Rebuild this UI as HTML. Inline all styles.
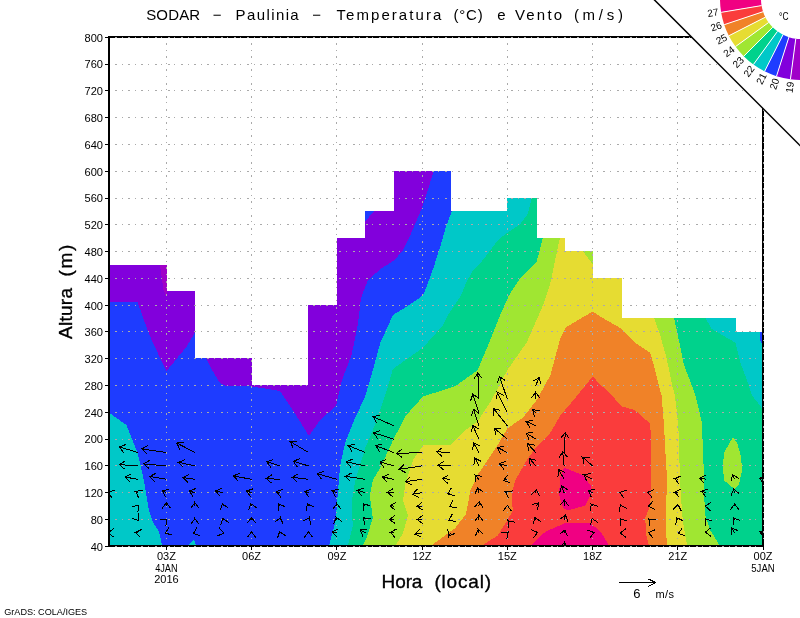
<!DOCTYPE html>
<html lang="pt"><head><meta charset="utf-8"><title>SODAR - Paulinia - Temperatura e Vento</title>
<style>html,body{margin:0;padding:0;background:#fff}body{width:800px;height:618px;overflow:hidden}svg{display:block}text{font-family:"Liberation Sans",sans-serif;fill:#000}</style></head><body>
<svg width="800" height="618" viewBox="0 0 800 618">
<rect width="800" height="618" fill="#fff"/>
<defs><clipPath id="d"><polygon points="108.0,265.0 167.0,265.0 167.0,291.0 195.0,291.0 195.0,358.0 252.0,358.0 252.0,385.0 308.0,385.0 308.0,305.0 337.0,305.0 337.0,238.0 365.0,238.0 365.0,211.0 394.0,211.0 394.0,171.0 451.0,171.0 451.0,211.0 507.0,211.0 507.0,198.0 537.0,198.0 537.0,238.0 565.0,238.0 565.0,251.0 593.0,251.0 593.0,278.0 622.0,278.0 622.0,318.0 736.0,318.0 736.0,332.0 764.0,332.0 764.0,546.0 108.0,546.0"/></clipPath><clipPath id="f"><rect x="108" y="36" width="656" height="511"/></clipPath></defs>
<g clip-path="url(#d)" shape-rendering="crispEdges">
<rect x="100" y="160" width="680" height="400" fill="#8200dc"/>
<polygon fill="#a000c8" points="160.0,265.0 167.0,265.0 167.0,292.0 166.0,296.0 163.5,290.0"/>
<polygon fill="#1e3cff" points="108.0,302.0 137.6,302.0 143.9,320.3 152.7,342.8 160.2,357.9 166.5,371.0 175.3,360.4 186.6,346.6 194.9,332.8 206.0,358.0 212.0,370.0 220.0,383.0 226.0,386.0 251.6,386.4 280.0,391.0 294.0,412.0 309.0,436.0 320.0,420.0 336.0,406.0 342.0,380.0 351.5,355.2 357.8,325.1 360.8,300.0 362.8,293.0 367.8,280.4 380.4,269.1 394.2,260.3 403.0,250.3 409.2,237.7 416.8,220.2 422.5,206.4 428.0,190.0 433.6,170.8 433.6,0.0 800.0,0.0 800.0,618.0 108.0,618.0"/>
<polygon fill="#1e3cff" points="365.3,210.9 374.1,210.9 365.3,221.4"/>
<polygon fill="#00c8c8" points="108.0,412.0 126.3,425.0 137.6,452.7 143.9,480.3 148.9,510.4 152.7,521.7 159.0,531.8 162.2,546.0 108.0,546.0"/>
<polygon fill="#00c8c8" points="187.8,546.0 194.0,540.0 196.6,546.0"/>
<polygon fill="#00c8c8" points="452.0,210.9 445.6,227.7 440.6,245.3 434.3,265.3 428.0,282.9 423.0,295.4 410.5,304.2 393.0,315.0 380.4,342.6 372.8,370.2 365.0,397.0 355.0,418.0 345.2,442.7 340.2,465.2 337.7,495.3 335.7,520.4 328.9,546.0 329.0,618.0 800.0,618.0 800.0,0.0 452.0,0.0"/>
<polygon fill="#00d28c" points="531.6,198.1 527.8,213.9 520.3,224.0 507.3,232.7 497.7,240.3 482.7,260.3 473.0,270.4 466.0,282.9 460.5,296.5 449.0,313.5 443.1,325.1 423.0,347.7 392.9,369.0 387.5,388.0 379.0,413.0 372.8,430.4 365.3,447.7 355.3,480.3 351.5,502.9 352.8,525.4 347.8,546.0 348.0,618.0 800.0,618.0 800.0,412.0 764.0,411.0 751.8,395.0 748.0,382.9 740.5,362.8 735.5,342.7 711.7,329.0 705.4,317.7 705.4,0.0 531.6,0.0"/>
<polygon fill="#a0e632" points="542.9,237.7 539.1,252.8 536.6,261.6 520.3,277.9 509.0,295.4 500.2,315.0 490.2,340.1 477.6,370.2 455.5,386.0 423.0,396.6 405.5,416.0 393.0,440.3 380.4,467.7 372.8,480.3 369.8,495.3 372.8,517.9 366.6,538.0 362.8,546.0 363.0,618.0 720.0,618.0 720.0,546.0 710.4,530.4 705.4,515.4 704.1,495.3 703.4,457.7 701.6,421.0 696.0,398.0 692.8,387.9 684.1,365.3 678.3,337.7 674.0,317.7 674.0,0.0 542.9,0.0"/>
<polygon fill="#a0e632" points="733.0,437.0 737.3,443.4 741.2,457.0 741.9,470.6 739.0,485.0 734.7,489.3 723.7,480.0 723.2,462.0 724.5,451.9"/>
<polygon fill="#e6dc32" points="560.0,237.7 556.7,252.8 550.4,282.9 542.9,305.5 536.6,320.0 526.6,342.6 507.3,370.2 491.4,400.3 477.6,421.5 465.4,430.2 450.3,444.8 423.0,445.3 413.0,460.2 405.5,482.8 403.0,500.3 408.0,515.4 403.0,533.0 395.4,546.0 395.0,618.0 687.3,618.0 687.3,546.0 685.3,535.5 682.8,520.4 680.8,495.3 679.3,457.7 678.3,424.0 674.8,395.0 672.8,387.9 666.5,357.8 660.2,335.2 654.0,317.7 654.0,0.0 560.0,0.0"/>
<polygon fill="#a0e632" points="582.5,250.8 592.6,250.8 592.6,264.1"/>
<polygon fill="#f08228" points="430.6,546.0 440.0,539.2 455.4,527.9 466.0,514.0 470.4,490.5 478.5,473.5 487.7,460.2 497.7,445.2 507.3,428.4 522.8,417.8 536.6,400.3 550.4,375.2 560.5,337.6 565.5,327.6 592.6,311.5 600.0,316.4 622.0,329.0 635.0,342.7 650.2,352.8 655.2,370.3 660.2,390.4 661.5,395.0 664.0,425.1 665.7,457.7 667.3,482.8 665.7,507.9 665.7,530.4 667.3,546.0"/>
<polygon fill="#fa3c3c" points="481.4,546.0 497.7,535.5 507.3,520.4 512.8,510.4 511.5,495.3 515.3,480.3 525.3,462.7 535.4,447.8 550.4,432.7 560.5,415.2 575.5,397.7 592.6,376.5 600.0,384.1 611.3,395.0 622.0,406.5 635.0,410.2 650.2,423.7 651.4,445.2 651.4,482.8 650.2,505.4 645.2,517.9 646.4,535.5 648.9,546.0"/>
<polygon fill="#f00082" points="564.2,467.7 583.0,475.3 590.6,485.3 591.8,492.8 585.5,505.4 568.0,510.4 563.0,507.9 559.2,495.3 560.0,477.8"/>
<polygon fill="#f00082" points="530.3,546.0 545.4,531.7 565.5,522.9 590.6,523.4 600.6,531.7 609.4,546.0"/>
<polygon fill="#1e3cff" points="760.0,332.0 764.0,332.0 764.0,348.0 760.0,340.0"/>
</g>
<path d="M115 519.5H762M115 492.5H762M115 465.5H762M115 439.5H762M115 412.5H762M115 385.5H762M115 358.5H762M115 331.5H762M115 305.5H762M115 278.5H762M115 251.5H762M115 224.5H762M115 198.5H762M115 171.5H762M115 144.5H762M115 117.5H762M115 90.5H762M115 64.5H762M166.5 43V545M251.5 43V545M336.5 43V545M422.5 43V545M507.5 43V545M592.5 43V545M677.5 43V545" stroke="#aaa" stroke-width="1" fill="none" stroke-dasharray="2 4.6 1 5.6" shape-rendering="crispEdges"/>
<g clip-path="url(#f)"><path d="M109.6 492.7L108.1 492.2L114.7 490.0M108.1 492.2L112.1 498.0M109.6 532.9L108.1 532.9L113.7 528.7M108.1 532.9L113.7 537.1M138.0 452.5L119.4 446.9L126.0 444.5M119.4 446.9L123.6 452.6M138.0 465.9L119.4 464.6L125.3 460.8M119.4 464.6L124.7 469.2M138.0 479.3L125.2 477.1L131.4 473.9M125.2 477.1L130.0 482.2M138.0 492.7L135.6 491.5L142.5 490.3M135.6 491.5L138.7 497.8M138.0 506.1L138.7 505.4L137.9 512.3M138.7 505.4L131.8 506.6M138.0 519.5L138.6 520.4L131.9 518.2M138.6 520.4L138.8 513.4M138.0 532.9L135.6 532.5L141.8 529.3M135.6 532.5L140.4 537.6M166.4 452.5L141.8 448.9L148.0 445.6M141.8 448.9L146.7 453.9M166.4 465.9L143.8 463.9L149.8 460.3M143.8 463.9L149.0 468.6M166.4 479.3L149.7 476.5L155.9 473.3M149.7 476.5L154.5 481.6M166.4 492.7L162.3 491.0L169.1 489.3M162.3 491.0L165.8 497.0M166.4 506.1L166.4 502.7L170.6 508.3M166.4 502.7L162.2 508.3M166.4 519.5L166.9 519.0L165.9 525.9M166.9 519.0L160.0 520.0M166.4 532.9L165.5 533.3L168.9 527.2M165.5 533.3L172.3 534.9M194.8 452.5L176.8 443.0L183.7 442.0M176.8 443.0L179.8 449.4M194.8 465.9L178.7 462.3L185.1 459.5M178.7 462.3L183.3 467.6M194.8 479.3L183.0 477.6L189.2 474.3M183.0 477.6L188.0 482.6M194.8 492.7L189.1 491.0L195.6 488.6M189.1 491.0L193.2 496.6M194.8 506.1L194.8 502.7L199.0 508.3M194.8 502.7L190.6 508.3M194.8 519.5L194.8 518.7L199.0 524.3M194.8 518.7L190.6 524.3M194.8 532.9L193.2 533.5L197.0 527.6M193.2 533.5L199.9 535.5M223.2 492.7L215.6 491.0L222.0 488.1M215.6 491.0L220.1 496.3M223.2 506.1L222.5 503.7L228.1 507.9M222.5 503.7L220.1 510.3M223.2 519.5L222.9 518.6L228.7 522.6M222.9 518.6L220.7 525.3M223.2 532.9L223.8 533.0L217.5 536.0M223.8 533.0L219.1 527.8M251.6 479.3L233.6 476.0L239.9 472.9M233.6 476.0L238.4 481.2M251.6 492.7L246.5 491.0L253.2 488.8M246.5 491.0L250.5 496.8M251.6 506.1L250.8 503.7L256.6 507.7M250.8 503.7L248.6 510.4M251.6 519.5L251.6 517.5L255.8 523.1M251.6 517.5L247.4 523.1M251.6 532.9L251.6 531.8L255.8 537.4M251.6 531.8L247.4 537.4M280.0 465.9L266.8 461.8L273.4 459.5M266.8 461.8L271.0 467.5M280.0 479.3L266.2 478.6L272.1 474.7M266.2 478.6L271.6 483.1M280.0 492.7L276.5 491.7L283.1 489.2M276.5 491.7L280.8 497.3M280.0 506.1L278.8 504.0L285.3 506.8M278.8 504.0L278.0 511.0M280.0 519.5L280.5 517.7L283.1 524.2M280.5 517.7L275.0 522.0M280.0 532.9L279.6 531.7L285.4 535.7M279.6 531.7L277.4 538.4M308.5 452.5L290.5 441.7L297.4 441.0M290.5 441.7L293.1 448.2M308.5 465.9L293.2 461.2L299.7 458.9M293.2 461.2L297.3 466.9M308.5 479.3L292.3 477.3L298.3 473.9M292.3 477.3L297.3 482.2M308.5 492.7L304.8 491.7L311.3 489.1M304.8 491.7L309.1 497.2M308.5 506.1L307.4 504.0L313.7 507.0M307.4 504.0L306.2 510.9M308.5 519.5L309.3 517.7L310.8 524.5M309.3 517.7L303.1 521.1M308.5 532.9L308.5 531.8L312.6 537.4M308.5 531.8L304.3 537.4M336.9 479.3L317.4 473.7L323.9 471.2M317.4 473.7L321.6 479.3M336.9 492.7L332.1 490.6L338.9 489.1M332.1 490.6L335.5 496.7M336.9 506.1L336.9 503.7L341.0 509.3M336.9 503.7L332.7 509.3M336.9 519.5L336.2 517.2L341.8 521.4M336.2 517.2L333.8 523.8M336.9 532.9L332.2 532.1L338.4 528.9M332.2 532.1L337.0 537.2M365.3 452.5L348.5 445.7L355.2 444.0M348.5 445.7L352.1 451.7M365.3 465.9L346.3 461.9L352.6 459.0M346.3 461.9L350.9 467.2M365.3 479.3L345.3 476.3L351.4 473.0M345.3 476.3L350.2 481.3M365.3 492.7L357.5 490.3L364.1 488.0M357.5 490.3L361.6 496.0M365.3 506.1L363.6 503.9L370.3 505.8M363.6 503.9L363.7 510.9M365.3 519.5L363.6 517.7L370.5 518.9M363.6 517.7L364.4 524.7M365.3 532.9L360.3 530.0L367.2 529.2M360.3 530.0L363.0 536.4M393.7 425.7L373.1 416.7L379.9 415.2M373.1 416.7L376.5 422.8M393.7 439.1L373.5 432.8L380.1 430.5M373.5 432.8L377.6 438.5M393.7 452.5L375.8 445.7L382.5 443.8M375.8 445.7L379.5 451.6M393.7 465.9L379.9 461.9L386.4 459.5M379.9 461.9L384.1 467.5M393.7 479.3L382.6 477.0L388.9 474.1M382.6 477.0L387.2 482.3M393.7 492.7L387.4 492.2L393.4 488.5M387.4 492.2L392.7 496.8M393.7 506.1L390.2 505.8L396.1 502.1M390.2 505.8L395.4 510.5M393.7 519.5L389.6 519.7L395.0 515.3M389.6 519.7L395.4 523.6M393.7 532.9L390.2 532.3L396.4 529.1M390.2 532.3L395.0 537.4M422.1 452.5L396.5 453.5L401.9 449.1M396.5 453.5L402.3 457.5M422.1 465.9L399.4 469.3L404.3 464.4M399.4 469.3L405.6 472.6M422.1 479.3L405.6 481.6L410.6 476.7M405.6 481.6L411.7 485.0M422.1 492.7L412.5 494.3L417.3 489.3M412.5 494.3L418.7 497.5M422.1 506.1L417.1 506.5L422.3 501.9M417.1 506.5L423.0 510.2M422.1 519.5L417.1 519.5L422.7 515.3M417.1 519.5L422.7 523.7M422.1 532.9L415.2 534.3L419.9 529.1M415.2 534.3L421.5 537.3M450.5 452.5L436.5 451.8L442.3 447.9M436.5 451.8L441.9 456.3M450.5 465.9L438.0 465.2L443.8 461.4M438.0 465.2L443.4 469.7M450.5 479.3L442.5 478.6L448.5 474.9M442.5 478.6L447.7 483.3M450.5 492.7L447.8 493.8L451.4 487.8M447.8 493.8L454.6 495.6M450.5 506.1L449.6 506.6L452.7 500.3M449.6 506.6L456.5 507.8M450.5 519.5L449.0 520.2L452.3 514.0M449.0 520.2L455.9 521.6M450.5 532.9L448.7 536.2L447.7 529.3M448.7 536.2L455.1 533.3M478.9 399.0L477.9 373.2L482.3 378.6M477.9 373.2L473.9 378.9M478.9 412.4L472.8 394.1L478.6 398.0M472.8 394.1L470.6 400.7M478.9 425.7L473.6 409.4L479.3 413.5M473.6 409.4L471.4 416.1M478.9 439.1L472.8 425.5L478.9 428.9M472.8 425.5L471.3 432.4M478.9 452.5L473.6 442.8L480.0 445.8M473.6 442.8L472.6 449.8M478.9 465.9L475.0 458.3L481.3 461.4M475.0 458.3L473.8 465.2M478.9 479.3L475.0 475.1L481.9 476.4M475.0 475.1L475.8 482.1M478.9 492.7L477.5 487.6L483.0 491.9M477.5 487.6L475.0 494.1M478.9 506.1L479.3 501.7L483.0 507.7M479.3 501.7L474.6 506.9M478.9 519.5L478.9 515.5L483.1 521.1M478.9 515.5L474.7 521.1M478.9 532.9L478.2 529.7L483.5 534.3M478.2 529.7L475.3 536.1M507.3 399.0L499.5 376.6L505.3 380.5M499.5 376.6L497.4 383.2M507.3 412.4L497.4 392.4L503.7 395.5M497.4 392.4L496.2 399.2M507.3 425.7L493.7 408.7L500.5 410.5M493.7 408.7L494.0 415.7M507.3 439.1L494.4 428.4L501.4 428.8M494.4 428.4L496.1 435.2M507.3 452.5L497.4 447.4L504.3 446.3M497.4 447.4L500.5 453.7M507.3 465.9L499.5 463.7L506.1 461.2M499.5 463.7L503.8 469.3M507.3 479.3L503.7 480.5L507.7 474.8M503.7 480.5L510.4 482.7M507.3 492.7L505.7 491.8L512.7 490.9M505.7 491.8L508.6 498.2M507.3 506.1L507.3 505.4L511.5 511.0M507.3 505.4L503.1 511.0M507.3 519.5L508.2 520.9L515.1 522.2M508.2 520.9L509.0 527.9M507.3 532.9L508.2 532.1L506.8 539.0M508.2 532.1L501.2 532.7M535.7 385.6L539.1 377.6L540.8 384.4M539.1 377.6L533.1 381.1M535.7 399.0L535.7 392.4L539.9 398.0M535.7 392.4L531.5 398.0M535.7 412.4L532.8 409.9L539.8 410.3M532.8 409.9L534.3 416.7M535.7 425.7L526.4 421.5L533.3 420.0M526.4 421.5L529.8 427.7M535.7 439.1L526.4 433.1L533.4 432.7M526.4 433.1L528.9 439.7M535.7 452.5L527.7 443.8L534.6 445.1M527.7 443.8L528.4 450.8M535.7 465.9L529.7 458.6L536.5 460.3M529.7 458.6L530.1 465.6M535.7 492.7L536.1 489.7L539.5 495.8M536.1 489.7L531.2 494.7M535.7 506.1L538.4 503.3L537.6 510.3M538.4 503.3L531.5 504.4M535.7 519.5L535.1 517.7L540.9 521.7M535.1 517.7L532.9 524.4M535.7 532.9L537.7 532.4L533.3 537.8M537.7 532.4L531.3 529.7M564.1 452.5L565.3 432.6L569.2 438.5M565.3 432.6L560.8 438.0M564.1 465.9L562.7 451.8L567.5 457.0M562.7 451.8L559.1 457.8M564.1 479.3L558.8 469.6L565.2 472.5M558.8 469.6L557.9 476.6M564.1 492.7L561.7 485.9L567.6 489.8M561.7 485.9L559.7 492.6M564.1 506.1L564.5 500.0L568.4 505.9M564.5 500.0L560.0 505.3M564.1 519.5L565.5 515.0L567.9 521.6M565.5 515.0L559.9 519.1M564.1 532.9L564.9 530.0L567.5 536.5M564.9 530.0L559.4 534.3M564.1 546.3L564.8 542.3L568.0 548.5M564.8 542.3L559.7 547.1M592.5 465.9L582.6 457.1L589.6 457.7M582.6 457.1L584.1 464.0M592.5 479.3L583.8 474.7L590.8 473.6M583.8 474.7L586.8 481.1M592.5 492.7L588.3 490.3L595.3 489.5M588.3 490.3L591.1 496.7M592.5 506.1L591.1 504.0L597.7 506.4M591.1 504.0L590.8 511.0M592.5 519.5L592.2 518.7L598.1 522.5M592.2 518.7L590.3 525.4M592.5 532.9L593.9 532.5L589.7 538.1M593.9 532.5L587.4 530.0M621.0 492.7L619.8 492.3L626.4 490.1M619.8 492.3L623.8 498.1M621.0 506.1L620.5 505.0L626.6 508.4M620.5 505.0L619.0 511.9M621.0 519.5L620.6 519.0L627.3 520.8M620.6 519.0L620.8 526.0M621.0 532.9L620.2 532.9L625.8 528.7M620.2 532.9L625.8 537.1M649.4 492.7L647.8 492.3L654.2 489.6M647.8 492.3L652.2 497.7M649.4 506.1L648.4 506.3L653.0 501.1M648.4 506.3L654.7 509.3M649.4 519.5L648.9 519.0L655.8 520.0M648.9 519.0L649.9 525.9M649.4 532.9L648.5 532.7L654.9 529.8M648.5 532.7L653.0 538.0M677.8 479.3L674.7 478.4L681.2 476.0M674.7 478.4L678.9 484.0M677.8 492.7L674.7 492.2L680.9 489.0M674.7 492.2L679.5 497.3M677.8 506.1L678.0 504.7L681.3 510.9M678.0 504.7L673.0 509.7M677.8 519.5L676.9 517.8L683.2 520.8M676.9 517.8L675.8 524.7M677.8 532.9L678.5 533.4L682.5 527.6M678.5 533.4L685.2 535.6M706.2 479.3L699.5 478.1L705.7 475.0M699.5 478.1L704.3 483.2M706.2 492.7L701.5 491.3L708.1 488.9M701.5 491.3L705.7 496.9M706.2 506.1L705.2 506.0L711.2 502.4M705.2 506.0L710.4 510.7M706.2 519.5L705.9 519.1L712.6 521.1M705.9 519.1L705.9 526.1M706.2 532.9L705.2 532.2L710.7 527.8M705.2 532.2L710.9 536.2M734.6 479.3L732.6 474.7L738.7 478.2M732.6 474.7L731.0 481.5M734.6 492.7L733.6 489.1L739.1 493.4M733.6 489.1L731.1 495.6M734.6 506.1L734.6 503.9L738.8 509.5M734.6 503.9L730.4 509.5M734.6 519.5L733.6 518.0L740.2 520.4M733.6 518.0L733.2 525.0M734.6 532.9L731.7 528.0L738.2 530.7M731.7 528.0L731.0 535.0M763.0 479.3L759.6 478.1L766.3 476.0M759.6 478.1L763.5 483.9M763.0 532.9L760.0 531.4L766.9 530.2M760.0 531.4L763.2 537.7" stroke="#000" stroke-width="1" fill="none" shape-rendering="crispEdges"/></g>
<g shape-rendering="crispEdges" fill="#000">
<rect x="108" y="36" width="656" height="2"/><rect x="108" y="545" width="656" height="2"/><rect x="108" y="36" width="2" height="511"/><rect x="762" y="36" width="2" height="511"/>
<rect x="105" y="546" width="3" height="1"/>
<rect x="105" y="519" width="3" height="1"/>
<rect x="105" y="492" width="3" height="1"/>
<rect x="105" y="465" width="3" height="1"/>
<rect x="105" y="439" width="3" height="1"/>
<rect x="105" y="412" width="3" height="1"/>
<rect x="105" y="385" width="3" height="1"/>
<rect x="105" y="358" width="3" height="1"/>
<rect x="105" y="331" width="3" height="1"/>
<rect x="105" y="305" width="3" height="1"/>
<rect x="105" y="278" width="3" height="1"/>
<rect x="105" y="251" width="3" height="1"/>
<rect x="105" y="224" width="3" height="1"/>
<rect x="105" y="198" width="3" height="1"/>
<rect x="105" y="171" width="3" height="1"/>
<rect x="105" y="144" width="3" height="1"/>
<rect x="105" y="117" width="3" height="1"/>
<rect x="105" y="90" width="3" height="1"/>
<rect x="105" y="64" width="3" height="1"/>
<rect x="105" y="37" width="3" height="1"/>
<rect x="166" y="547" width="1" height="3"/>
<rect x="251" y="547" width="1" height="3"/>
<rect x="336" y="547" width="1" height="3"/>
<rect x="422" y="547" width="1" height="3"/>
<rect x="507" y="547" width="1" height="3"/>
<rect x="592" y="547" width="1" height="3"/>
<rect x="677" y="547" width="1" height="3"/>
<rect x="763" y="547" width="1" height="3"/>
</g>
<path d="M115 37.5H762M115 546.5H762M763.5 43V545" stroke="#aaa" stroke-width="1" fill="none" stroke-dasharray="2 4.6 1 5.6" shape-rendering="crispEdges"/>
<text x="103" y="550.6" font-size="11.5" text-anchor="end" textLength="12.3" lengthAdjust="spacingAndGlyphs">40</text>
<text x="103" y="523.8" font-size="11.5" text-anchor="end" textLength="12.3" lengthAdjust="spacingAndGlyphs">80</text>
<text x="103" y="497.0" font-size="11.5" text-anchor="end" textLength="18.5" lengthAdjust="spacingAndGlyphs">120</text>
<text x="103" y="470.2" font-size="11.5" text-anchor="end" textLength="18.5" lengthAdjust="spacingAndGlyphs">160</text>
<text x="103" y="443.4" font-size="11.5" text-anchor="end" textLength="18.5" lengthAdjust="spacingAndGlyphs">200</text>
<text x="103" y="416.7" font-size="11.5" text-anchor="end" textLength="18.5" lengthAdjust="spacingAndGlyphs">240</text>
<text x="103" y="389.9" font-size="11.5" text-anchor="end" textLength="18.5" lengthAdjust="spacingAndGlyphs">280</text>
<text x="103" y="363.1" font-size="11.5" text-anchor="end" textLength="18.5" lengthAdjust="spacingAndGlyphs">320</text>
<text x="103" y="336.3" font-size="11.5" text-anchor="end" textLength="18.5" lengthAdjust="spacingAndGlyphs">360</text>
<text x="103" y="309.5" font-size="11.5" text-anchor="end" textLength="18.5" lengthAdjust="spacingAndGlyphs">400</text>
<text x="103" y="282.7" font-size="11.5" text-anchor="end" textLength="18.5" lengthAdjust="spacingAndGlyphs">440</text>
<text x="103" y="255.9" font-size="11.5" text-anchor="end" textLength="18.5" lengthAdjust="spacingAndGlyphs">480</text>
<text x="103" y="229.1" font-size="11.5" text-anchor="end" textLength="18.5" lengthAdjust="spacingAndGlyphs">520</text>
<text x="103" y="202.3" font-size="11.5" text-anchor="end" textLength="18.5" lengthAdjust="spacingAndGlyphs">560</text>
<text x="103" y="175.5" font-size="11.5" text-anchor="end" textLength="18.5" lengthAdjust="spacingAndGlyphs">600</text>
<text x="103" y="148.8" font-size="11.5" text-anchor="end" textLength="18.5" lengthAdjust="spacingAndGlyphs">640</text>
<text x="103" y="122.0" font-size="11.5" text-anchor="end" textLength="18.5" lengthAdjust="spacingAndGlyphs">680</text>
<text x="103" y="95.2" font-size="11.5" text-anchor="end" textLength="18.5" lengthAdjust="spacingAndGlyphs">720</text>
<text x="103" y="68.4" font-size="11.5" text-anchor="end" textLength="18.5" lengthAdjust="spacingAndGlyphs">760</text>
<text x="103" y="41.6" font-size="11.5" text-anchor="end" textLength="18.5" lengthAdjust="spacingAndGlyphs">800</text>
<text x="166.4" y="559.5" font-size="11" text-anchor="middle">03Z</text>
<text x="251.6" y="559.5" font-size="11" text-anchor="middle">06Z</text>
<text x="336.9" y="559.5" font-size="11" text-anchor="middle">09Z</text>
<text x="422.1" y="559.5" font-size="11" text-anchor="middle">12Z</text>
<text x="507.3" y="559.5" font-size="11" text-anchor="middle">15Z</text>
<text x="592.5" y="559.5" font-size="11" text-anchor="middle">18Z</text>
<text x="677.8" y="559.5" font-size="11" text-anchor="middle">21Z</text>
<text x="763.0" y="559.5" font-size="11" text-anchor="middle">00Z</text>
<text x="166.4" y="571.5" font-size="11" text-anchor="middle" textLength="22.5" lengthAdjust="spacingAndGlyphs">4JAN</text>
<text x="166.4" y="582.5" font-size="11" text-anchor="middle">2016</text>
<text x="763.0" y="571.5" font-size="11" text-anchor="middle" textLength="23.4" lengthAdjust="spacingAndGlyphs">5JAN</text>
<polygon points="654.5,0 800,0 800,145.5" fill="#fff"/>
<line x1="653.5" y1="-1" x2="801" y2="146.5" stroke="#000" stroke-width="1.5"/>
<path d="M761.00 -1.00L720.00 -1.00A81 81 0 0 0 721.11 12.37L761.55 5.60A40 40 0 0 1 761.00 -1.00Z" fill="#f00082"/>
<path d="M761.55 5.60L721.11 12.37A81 81 0 0 0 724.19 24.70L763.07 11.69A40 40 0 0 1 761.55 5.60Z" fill="#fa3c3c"/>
<path d="M763.07 11.69L724.19 24.70A81 81 0 0 0 728.83 35.77L765.36 17.16A40 40 0 0 1 763.07 11.69Z" fill="#f08228"/>
<path d="M765.36 17.16L728.83 35.77A81 81 0 0 0 735.47 46.61L768.64 22.51A40 40 0 0 1 765.36 17.16Z" fill="#e6dc32"/>
<path d="M768.64 22.51L735.47 46.61A81 81 0 0 0 743.72 56.28L772.72 27.28A40 40 0 0 1 768.64 22.51Z" fill="#a0e632"/>
<path d="M772.72 27.28L743.72 56.28A81 81 0 0 0 753.39 64.53L777.49 31.36A40 40 0 0 1 772.72 27.28Z" fill="#00d28c"/>
<path d="M777.49 31.36L753.39 64.53A81 81 0 0 0 764.61 71.36L783.03 34.73A40 40 0 0 1 777.49 31.36Z" fill="#00c8c8"/>
<path d="M783.03 34.73L764.61 71.36A81 81 0 0 0 776.51 76.21L788.91 37.13A40 40 0 0 1 783.03 34.73Z" fill="#1e3cff"/>
<path d="M788.91 37.13L776.51 76.21A81 81 0 0 0 790.43 79.31L795.78 38.66A40 40 0 0 1 788.91 37.13Z" fill="#8200dc"/>
<path d="M795.78 38.66L790.43 79.31A81 81 0 0 0 801.00 80.00L801.00 39.00A40 40 0 0 1 795.78 38.66Z" fill="#a000c8"/>
<line x1="761.55" y1="5.60" x2="721.11" y2="12.37" stroke="#fff" stroke-width="1"/>
<text font-size="10" text-anchor="end" transform="translate(718.6 12.8) rotate(-9.5)" y="2.3">27</text>
<line x1="763.07" y1="11.69" x2="724.19" y2="24.70" stroke="#fff" stroke-width="1"/>
<text font-size="10" text-anchor="end" transform="translate(721.8 25.5) rotate(-18.5)" y="2.6">26</text>
<line x1="765.36" y1="17.16" x2="728.83" y2="35.77" stroke="#fff" stroke-width="1"/>
<text font-size="10" text-anchor="end" transform="translate(726.6 36.9) rotate(-27)" y="3.2">25</text>
<line x1="768.64" y1="22.51" x2="735.47" y2="46.61" stroke="#fff" stroke-width="1"/>
<text font-size="10" text-anchor="end" transform="translate(733.4 48.1) rotate(-36)" y="3.6">24</text>
<line x1="772.72" y1="27.28" x2="743.72" y2="56.28" stroke="#fff" stroke-width="1"/>
<text font-size="10" text-anchor="end" transform="translate(742.0 58.0) rotate(-45)" y="3.8">23</text>
<line x1="777.49" y1="31.36" x2="753.39" y2="64.53" stroke="#fff" stroke-width="1"/>
<text font-size="10" text-anchor="end" transform="translate(751.9 66.6) rotate(-54)" y="3.8">22</text>
<line x1="783.03" y1="34.73" x2="764.61" y2="71.36" stroke="#fff" stroke-width="1"/>
<text font-size="10" text-anchor="end" transform="translate(763.5 73.6) rotate(-63.3)" y="3.8">21</text>
<line x1="788.91" y1="37.13" x2="776.51" y2="76.21" stroke="#fff" stroke-width="1"/>
<text font-size="10" text-anchor="end" transform="translate(775.8 78.6) rotate(-72.4)" y="3.8">20</text>
<line x1="795.78" y1="38.66" x2="790.43" y2="79.31" stroke="#fff" stroke-width="1"/>
<text font-size="10" text-anchor="end" transform="translate(790.1 81.8) rotate(-82.5)" y="3.8">19</text>
<text x="779" y="19.8" font-size="10.5" textLength="9.5" lengthAdjust="spacingAndGlyphs">°C</text>
<text x="146.2" y="19.9" font-size="15" textLength="54.0" lengthAdjust="spacing">SODAR</text>
<text x="212.7" y="19.9" font-size="15" textLength="10.1" lengthAdjust="spacing">−</text>
<text x="235.6" y="19.9" font-size="15" textLength="63.1" lengthAdjust="spacing">Paulinia</text>
<text x="312.2" y="19.9" font-size="15" textLength="10.2" lengthAdjust="spacing">−</text>
<text x="336.5" y="19.9" font-size="15" textLength="104.8" lengthAdjust="spacing">Temperatura</text>
<text x="453.4" y="19.9" font-size="15" textLength="29.4" lengthAdjust="spacing">(°C)</text>
<text x="497.3" y="19.9" font-size="15" textLength="9.1" lengthAdjust="spacing">e</text>
<text x="514.9" y="19.9" font-size="15" textLength="47.2" lengthAdjust="spacing">Vento</text>
<text x="573.9" y="19.9" font-size="15" textLength="49.0" lengthAdjust="spacing">(m/s)</text>
<text x="381.6" y="587.6" font-size="19" stroke="#000" stroke-width="0.35" textLength="40.8" lengthAdjust="spacing">Hora</text>
<text x="434.4" y="587.6" font-size="19" stroke="#000" stroke-width="0.35" textLength="56.6" lengthAdjust="spacing">(local)</text>
<g transform="translate(72.4 339) rotate(-90)" stroke="#000" stroke-width="0.35"><text x="0" y="0" font-size="19" textLength="51" lengthAdjust="spacing">Altura</text><text x="62.4" y="0" font-size="19" textLength="32" lengthAdjust="spacing">(m)</text></g>
<path d="M618.5 582.5H655.5M648.5 579L655.5 582.5L648.5 586.5" stroke="#000" fill="none" stroke-width="1" shape-rendering="crispEdges"/>
<text x="636.8" y="597.5" font-size="13" text-anchor="middle">6</text>
<text x="655.4" y="597.5" font-size="11" textLength="18.6" lengthAdjust="spacing">m/s</text>
<text x="4.2" y="615" font-size="9.5" textLength="83" lengthAdjust="spacingAndGlyphs">GrADS: COLA/IGES</text>
</svg></body></html>
